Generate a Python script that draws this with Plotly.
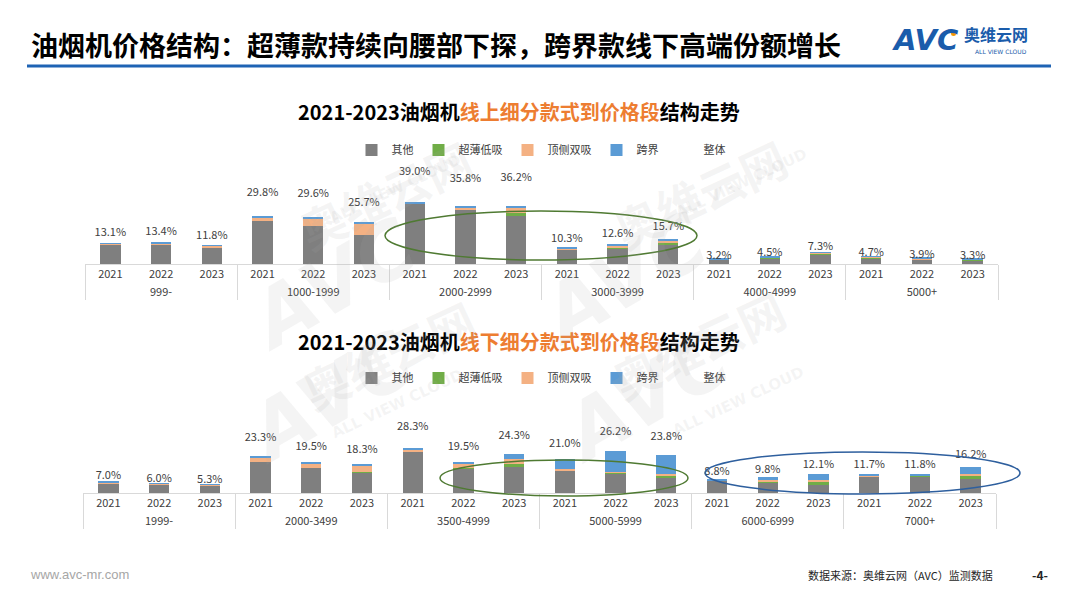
import plotly.graph_objects as go

# ---- data (shares, %) ----
YEARS = ["2021", "2022", "2023"]

ONLINE_BANDS = ["999-", "1000-1999", "2000-2999", "3000-3999", "4000-4999", "5000+"]
ONLINE_TOTAL = [13.1, 13.4, 11.8, 29.8, 29.6, 25.7, 39.0, 35.8, 36.2,
                10.3, 12.6, 15.7, 3.2, 4.5, 7.3, 4.7, 3.9, 3.3]
ONLINE_OTHER = [12.2, 11.9, 9.8, 27.1, 23.5, 18.3, 37.7, 33.8, 30.0,
                9.2, 9.4, 11.7, 2.7, 3.4, 6.1, 3.2, 2.5, 2.0]
ONLINE_SLIM = [0.0, 0.0, 0.0, 0.0, 0.0, 0.0, 0.0, 0.3, 2.1,
               0.0, 1.2, 1.5, 0.2, 0.5, 0.4, 1.1, 0.6, 1.1]
ONLINE_DUAL = [0.4, 1.0, 1.5, 1.7, 5.2, 6.7, 0.4, 1.2, 3.1,
               0.6, 1.2, 1.5, 0.1, 0.3, 0.5, 0.1, 0.2, 0.0]
ONLINE_CROSS = [0.5, 0.5, 0.5, 1.0, 0.9, 0.7, 0.9, 0.5, 1.0,
                0.5, 0.8, 1.0, 0.2, 0.3, 0.3, 0.3, 0.6, 0.2]

OFFLINE_BANDS = ["1999-", "2000-3499", "3500-4999", "5000-5999", "6000-6999", "7000+"]
OFFLINE_TOTAL = [7.0, 6.0, 5.3, 23.3, 19.5, 18.3, 28.3, 19.5, 24.3,
                 21.0, 26.2, 23.8, 8.8, 9.8, 12.1, 11.7, 11.8, 16.2]
OFFLINE_OTHER = [5.8, 5.4, 4.8, 19.6, 15.6, 12.7, 25.6, 15.6, 16.5,
                 13.8, 12.1, 9.8, 7.5, 6.5, 5.2, 10.6, 10.2, 8.5]
OFFLINE_SLIM = [0.0, 0.0, 0.0, 0.0, 0.0, 0.6, 0.0, 0.2, 1.4,
                0.0, 0.6, 1.2, 0.0, 0.8, 1.7, 0.0, 0.6, 1.9]
OFFLINE_DUAL = [1.0, 0.5, 0.3, 2.7, 3.1, 4.0, 1.9, 2.9, 3.1,
                1.0, 0.6, 0.8, 0.2, 0.8, 1.5, 0.4, 0.3, 1.5]
OFFLINE_CROSS = [0.2, 0.1, 0.2, 1.0, 0.8, 1.0, 0.8, 0.8, 3.3,
                 6.2, 12.9, 12.0, 1.1, 1.7, 3.7, 0.7, 0.7, 4.3]

SERIES_NAMES = ["其他", "超薄低吸", "顶侧双吸", "跨界"]
SERIES_COLORS = ["#7f7f7f", "#70ad47", "#f4b183", "#5b9bd5"]
TOTAL_NAME = "整体"

FONT = "Noto Sans CJK SC"
W, H = 1080, 608
OFF = 8  # page body margin in the browser


def px(x):
    return (x - OFF) / W


def py(y):
    return 1 - (y - OFF) / H


def multicat(bands):
    return [[b for b in bands for _ in YEARS], [y for _ in bands for y in YEARS]]


fig = go.Figure()

panels = [
    ("x", "y", "y3", "legend", ONLINE_BANDS, ONLINE_TOTAL,
     [ONLINE_OTHER, ONLINE_SLIM, ONLINE_DUAL, ONLINE_CROSS]),
    ("x2", "y2", "y4", "legend2", OFFLINE_BANDS, OFFLINE_TOTAL,
     [OFFLINE_OTHER, OFFLINE_SLIM, OFFLINE_DUAL, OFFLINE_CROSS]),
]

for xa, ya, ya_lbl, leg, bands, total, parts in panels:
    xcat = multicat(bands)
    for name, color, vals in zip(SERIES_NAMES, SERIES_COLORS, parts):
        fig.add_trace(go.Bar(
            x=xcat, y=vals, name=name, marker_color=color,
            marker_line_width=0, xaxis=xa, yaxis=ya, legend=leg,
            hoverinfo="skip",
        ))
    # overall share labels (invisible marker, text only)
    fig.add_trace(go.Scatter(
        x=xcat, y=total, name=TOTAL_NAME, mode="markers+text",
        text=[f"{v:.1f}%" for v in total], textposition="middle center",
        textfont=dict(family=FONT, size=11, color="#404040"),
        marker=dict(color="rgba(0,0,0,0)", size=1),
        xaxis=xa, yaxis=ya_lbl, legend=leg, hoverinfo="skip",
    ))

n_cat = len(YEARS) * len(ONLINE_BANDS)
xaxis_style = dict(
    type="multicategory", showline=True, linecolor="#d9d9d9", linewidth=1,
    showdividers=True, dividercolor="#d9d9d9", dividerwidth=1,
    ticks="", showgrid=False, fixedrange=True, range=[-0.5, n_cat - 0.5],
    tickfont=dict(family=FONT, size=11, color="#404040"),
)
hidden_y = dict(visible=False, showgrid=False, zeroline=False, fixedrange=True)

legend_style = dict(
    orientation="h", xanchor="center", x=px(541), yanchor="middle",
    bgcolor="rgba(0,0,0,0)", itemwidth=30, traceorder="normal",
    font=dict(family=FONT, size=11, color="#404040"),
    itemclick=False, itemdoubleclick=False,
)

fig.update_layout(
    width=W, height=H,
    margin=dict(l=0, r=0, t=0, b=0),
    paper_bgcolor="white", plot_bgcolor="rgba(0,0,0,0)",
    barmode="stack", bargap=0.6,
    font=dict(family=FONT, color="#404040"),
    xaxis=dict(xaxis_style, domain=[px(85), px(998)], anchor="y"),
    yaxis=dict(hidden_y, domain=[py(264), py(140)], range=[0, 77.5]),
    yaxis3=dict(hidden_y, overlaying="y", range=[0, 52.5]),
    xaxis2=dict(xaxis_style, domain=[px(83), px(996)], anchor="y2"),
    yaxis2=dict(hidden_y, domain=[py(493), py(370)], range=[0, 76.9]),
    yaxis4=dict(hidden_y, overlaying="y2", range=[0, 52.8]),
    legend=dict(legend_style, y=py(150)),
    legend2=dict(legend_style, y=py(378)),
)

# ---- header, titles, footer ----
annotations = [
    dict(text="<b>油烟机价格结构：超薄款持续向腰部下探，跨界款线下高端份额增长</b>",
         x=px(29), y=py(44), xanchor="left", yanchor="middle",
         font=dict(family=FONT, size=27, color="#000000")),
    dict(text="<b>2021-2023油烟机<span style='color:#ed7d31'>线上细分款式到价格段</span>结构走势</b>",
         x=px(519), y=py(111), xanchor="center", yanchor="middle",
         font=dict(family=FONT, size=20, color="#000000")),
    dict(text="<b>2021-2023油烟机<span style='color:#ed7d31'>线下细分款式到价格段</span>结构走势</b>",
         x=px(519), y=py(341), xanchor="center", yanchor="middle",
         font=dict(family=FONT, size=20, color="#000000")),
    # logo
    dict(text="<b><i>AVC</i></b>", x=px(890), y=py(40), xanchor="left", yanchor="middle",
         font=dict(family="DejaVu Sans", size=29, color="#1a5cab")),
    dict(text="<b>奥维云网</b>", x=px(963), y=py(34), xanchor="left", yanchor="middle",
         font=dict(family=FONT, size=16, color="#1a5cab"), borderpad=0),
    dict(text="ALL VIEW CLOUD", x=px(1001), y=py(51), xanchor="center", yanchor="middle",
         font=dict(family="DejaVu Sans", size=6, color="#1a5cab"), borderpad=0),
    # footer
    dict(text="www.avc-mr.com", x=px(28), y=py(574), xanchor="left", yanchor="middle",
         font=dict(family="Liberation Sans", size=13, color="#a6a6a6")),
    dict(text="数据来源：奥维云网（AVC）监测数据", x=px(806), y=py(575), xanchor="left",
         yanchor="middle", font=dict(family=FONT, size=11, color="#262626")),
    dict(text="<b>-4-</b>", x=px(1040), y=py(574), xanchor="center", yanchor="middle",
         font=dict(family=FONT, size=12, color="#262626")),
]

# faint watermarks (AVC / 奥维云网 / ALL VIEW CLOUD), four copies
WM = "rgba(170,170,170,0.13)"
for ax, ay, bx, by, cx, cy in [(230, 198, 385, 123, 395, 148),
                               (623, 193, 800, 122, 813, 142),
                               (227, 483, 388, 425, 397, 445),
                               (645, 483, 798, 415, 810, 442)]:
    annotations += [
        dict(text="<b><i>AVC</i></b>", x=px(ax), y=py(ay), textangle=-30,
             font=dict(family="DejaVu Sans", size=78, color=WM)),
        dict(text="<b>奥维云网</b>", x=px(bx), y=py(by), textangle=-25,
             font=dict(family=FONT, size=46, color=WM)),
        dict(text="<b>ALL VIEW CLOUD</b>", x=px(cx), y=py(cy), textangle=-25,
             font=dict(family="DejaVu Sans", size=15, color=WM)),
    ]

for a in annotations:
    a.setdefault("xref", "paper")
    a.setdefault("yref", "paper")
    a.setdefault("showarrow", False)
fig.update_layout(annotations=annotations)

# header rule, logo dot and highlight ellipses
fig.update_layout(shapes=[
    dict(type="line", xref="paper", yref="paper", x0=px(27), x1=px(1051), y0=py(66), y1=py(66),
         line=dict(color="#1e63b4", width=3)),
    dict(type="circle", xref="paper", yref="paper", x0=px(951), x1=px(956), y0=py(36), y1=py(31),
         fillcolor="#f39800", line=dict(width=0)),
    dict(type="circle", xref="paper", yref="paper", x0=px(385), x1=px(697), y0=py(260), y1=py(211),
         line=dict(color="#4f7a32", width=1.5)),
    dict(type="circle", xref="paper", yref="paper", x0=px(440), x1=px(688), y0=py(496), y1=py(460),
         line=dict(color="#4f7a32", width=1.5)),
    dict(type="circle", xref="paper", yref="paper", x0=px(705), x1=px(1020), y0=py(494), y1=py(452),
         line=dict(color="#2e5f9e", width=1.5)),
])

fig.write_html("out.html")
